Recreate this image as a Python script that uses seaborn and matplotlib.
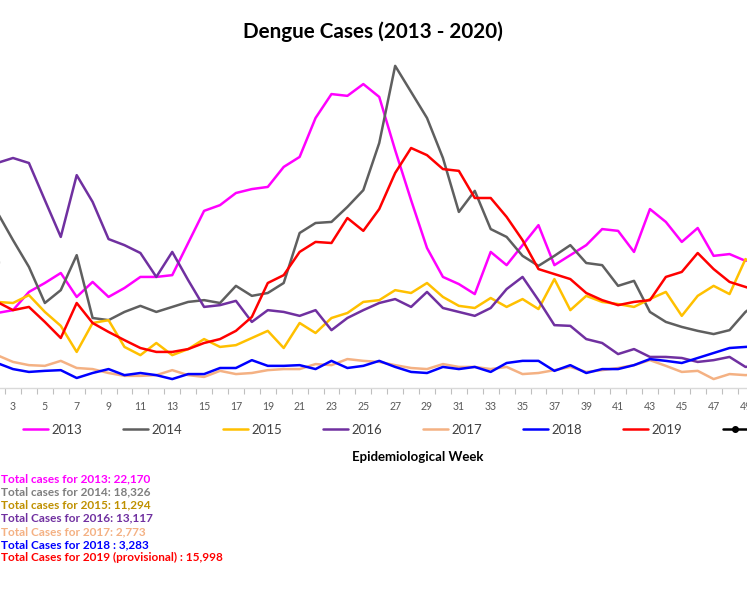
import numpy as np
import pandas as pd
import matplotlib
matplotlib.use('Agg')
import matplotlib.pyplot as plt
from matplotlib.lines import Line2D
from matplotlib.ticker import FixedLocator
import seaborn as sns

# Datos (casos por semana epidemiologica)
semanas = list(range(1, 53))

casos_2013 = [196, 210, 218, 269, 294, 322, 255, 297, 255, 280, 311, 311, 316, 406, 496, 512,
              546, 557, 563, 619, 647, 756, 823, 818, 851, 815, 666, 526, 392, 311, 291, 263,
              381, 344, 400, 456, 344, 372, 400, 445, 440, 381, 501, 465, 409, 448, 370, 375,
              356, 364, 336, 308]
casos_2014 = [568, 493, 414, 339, 238, 274, 372, 196, 190, 213, 230, 213, 227, 241, 246, 238,
              286, 258, 266, 294, 434, 462, 465, 507, 554, 686, 902, 829, 756, 644, 493, 552,
              445, 423, 370, 342, 370, 400, 350, 344, 286, 300, 213, 185, 171, 160, 151, 162,
              213, 246, 232, 218]
casos_2015 = [246, 241, 238, 260, 213, 174, 101, 182, 190, 115, 92, 126, 92, 109, 137, 115,
              120, 140, 160, 112, 182, 154, 196, 210, 241, 246, 274, 266, 294, 255, 230, 224,
              252, 227, 249, 221, 305, 218, 258, 241, 235, 227, 249, 269, 202, 258, 286, 263,
              361, 330, 288, 274]
casos_2016 = [624, 630, 644, 630, 526, 423, 596, 521, 417, 400, 378, 311, 381, 302, 227, 232,
              244, 185, 218, 213, 202, 218, 162, 196, 218, 238, 249, 227, 269, 224, 213, 202,
              224, 277, 311, 246, 176, 174, 137, 126, 95, 109, 87, 87, 84, 73, 78, 87,
              59, 64, 56, 50]
casos_2017 = [101, 92, 73, 64, 62, 76, 56, 53, 42, 34, 34, 36, 50, 36, 31, 48,
              39, 42, 50, 53, 53, 67, 64, 81, 76, 73, 64, 56, 53, 67, 59, 59,
              53, 59, 39, 42, 50, 59, 45, 50, 56, 64, 78, 62, 45, 48, 25, 39,
              36, 39, 34, 36]
casos_2018 = [78, 70, 53, 45, 48, 50, 28, 42, 53, 36, 42, 36, 25, 39, 39, 56,
              56, 78, 62, 62, 64, 53, 76, 56, 62, 76, 59, 45, 42, 59, 53, 59,
              45, 70, 76, 76, 48, 64, 42, 53, 53, 64, 81, 76, 70, 84, 98, 112,
              115, 118, 112, 106]
casos_2019 = [260, 241, 218, 227, 185, 140, 238, 182, 157, 134, 112, 101, 101, 109, 126, 137,
              160, 199, 294, 316, 381, 409, 406, 476, 440, 501, 602, 672, 652, 613, 608, 532,
              532, 479, 414, 333, 319, 305, 266, 246, 232, 241, 246, 311, 325, 378, 333, 297,
              283, 269, 246, 232]
semanas_2020 = [1, 2]
casos_2020 = [300, 353]

anos = ['2013', '2014', '2015', '2016', '2017', '2018', '2019']
series = [casos_2013, casos_2014, casos_2015, casos_2016, casos_2017, casos_2018, casos_2019]
colores = {'2013': '#FF00FF', '2014': '#5F5F5F', '2015': '#FFC000', '2016': '#7030A0',
           '2017': '#F4B183', '2018': '#0000FF', '2019': '#FF0000', '2020': '#000000'}

# solo las etiquetas que quedan dentro de la imagen recortada
etiquetas_semana = list(range(3, 50, 2))

totales = [
    ('Total cases for 2013: 22,170', '#FF00FF'),
    ('Total cases for 2014: 18,326', '#7F7F7F'),
    ('Total cases for 2015: 11,294', '#BF9000'),
    ('Total Cases for 2016: 13,117', '#7030A0'),
    ('Total Cases for 2017: 2,773', '#F4B183'),
    ('Total Cases for 2018 : 3,283', '#0000FF'),
    ('Total Cases for 2019 (provisional) : 15,998', '#FF0000'),
]

df = pd.DataFrame({
    'semana': semanas * len(anos),
    'casos': [v for s in series for v in s],
    'ano': [a for a in anos for _ in semanas],
})
df_2020 = pd.DataFrame({'semana': semanas_2020, 'casos': casos_2020})

sns.set_theme(style='white')
plt.rcParams['font.family'] = ['Lato', 'DejaVu Sans']

W, H = 747, 598
fig = plt.figure(figsize=(W / 100, H / 100), dpi=100)
fig.patch.set_facecolor('white')

# el grafico original esta recortado a ambos lados
ax = fig.add_axes([-26.8 / W, (H - 388) / H, 828 / W, 333 / H])
ax.set_facecolor('white')

sns.lineplot(data=df, x='semana', y='casos', hue='ano', palette=colores,
             linewidth=1.8, legend=False, ax=ax)
sns.lineplot(data=df_2020, x='semana', y='casos', color='black', marker='o',
             markersize=4, linewidth=1.8, legend=False, ax=ax)

ax.set_xlim(0.5, 52.5)
ax.set_ylim(0, 932.4)
ax.set_xlabel('')
ax.set_ylabel('')
ax.set_yticks([])
for lado in ['top', 'left', 'right']:
    ax.spines[lado].set_visible(False)
ax.spines['bottom'].set_color('#D9D9D9')
ax.spines['bottom'].set_linewidth(1.0)

ax.set_xticks(etiquetas_semana)
ax.set_xticklabels([str(s) for s in etiquetas_semana], fontsize=7.6, color='#595959')
ax.xaxis.set_minor_locator(FixedLocator(np.arange(0.5, 53, 1)))
ax.tick_params(axis='x', which='major', length=0, pad=9)
ax.tick_params(axis='x', which='minor', length=4, width=0.8, color='#BFBFBF', bottom=True)

fig.text(373 / W, 1 - 32 / H, 'Dengue Cases (2013 - 2020)', ha='center', va='center',
         fontsize=14.9, fontweight='bold', color='black')
fig.text(418 / W, 1 - 457 / H, 'Epidemiological Week', ha='center', va='center',
         fontsize=9.5, fontweight='bold', color='black')

handles = [Line2D([0], [0], color=colores[a], linewidth=1.8) for a in anos]
handles.append(Line2D([0], [0], color='black', linewidth=1.8, marker='o', markersize=4))
fig.legend(handles, anos + ['2020'], loc='center left', bbox_to_anchor=(23 / W, 1 - 430 / H),
           ncol=8, frameon=False, fontsize=9.5, handlelength=1.9, handletextpad=0.25,
           columnspacing=3.1, borderpad=0, borderaxespad=0, labelcolor='#404040')

for i, (texto, color) in enumerate(totales):
    fig.text(0.002, 1 - (479 + i * 13.1) / H, texto, ha='left', va='center',
             fontsize=8.5, fontweight='bold', color=color)

plt.savefig('out.png', dpi=100)
plt.close()
